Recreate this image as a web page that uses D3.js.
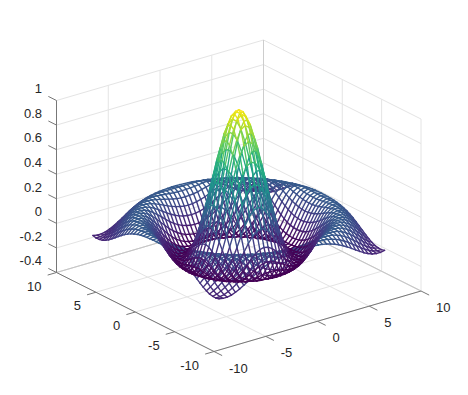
<!DOCTYPE html>
<html>
<head>
<meta charset="utf-8">
<style>
  html, body { margin: 0; padding: 0; background: #fff; }
  svg { display: block; }
  text { font-family: "Liberation Sans", Arial, sans-serif; font-size: 13px; fill: #262626; }
</style>
<script src="https://cdn.jsdelivr.net/npm/d3@7"></script>
</head>
<body>
<div class="canvas"></div>
<script>
// tick labels
const xTicks = [-10, -5, 0, 5, 10];
const yTicks = [-10, -5, 0, 5, 10];
const zTicks = [-0.4, -0.2, 0, 0.2, 0.4, 0.6, 0.8, 1];

// mesh sample positions, same for x and y
const gridPos = [-8, -7.6, -7.2, -6.8, -6.4, -6, -5.6, -5.2, -4.8, -4.4, -4, -3.6, -3.2, -2.8, -2.4, -2, -1.6, -1.2, -0.8, -0.4, 0,
  0.4, 0.8, 1.2, 1.6, 2, 2.4, 2.8, 3.2, 3.6, 4, 4.4, 4.8, 5.2, 5.6, 6, 6.4, 6.8, 7.2, 7.6, 8];

// surface height, one quadrant (row = |y| step, col = |x| step from centre)
// it reads as the usual sin(r)/r bump
const zQuadrant = [
  [1.000, .974, .897, .777, .625, .455, .281, .120, -.018, -.123, -.189, -.216, -.208, -.170, -.113, -.047, .018, .073, .110, .127, .124],
  [.974, .948, .872, .754, .605, .437, .267, .109, -.026, -.127, -.191, -.217, -.206, -.168, -.110, -.044, .020, .074, .111, .127, .124],
  [.897, .872, .800, .688, .546, .388, .227, .078, -.047, -.142, -.198, -.217, -.203, -.162, -.103, -.038, .026, .078, .113, .128, .122],
  [.777, .754, .688, .585, .455, .310, .165, .031, -.080, -.160, -.205, -.217, -.197, -.152, -.092, -.027, .035, .084, .116, .128, .120],
  [.625, .605, .546, .455, .340, .214, .088, -.026, -.118, -.182, -.213, -.213, -.186, -.137, -.076, -.012, .047, .093, .120, .128, .117],
  [.455, .437, .388, .310, .214, .109, .006, -.086, -.157, -.201, -.217, -.205, -.170, -.117, -.056, .006, .061, .102, .124, .127, .112],
  [.281, .267, .227, .165, .088, .006, -.074, -.142, -.189, -.214, -.214, -.191, -.148, -.092, -.031, .027, .077, .111, .127, .125, .105],
  [.120, .109, .078, .031, -.026, -.086, -.142, -.184, -.211, -.217, -.202, -.168, -.119, -.063, -.004, .050, .093, .119, .128, .120, .096],
  [-.018, -.026, -.047, -.080, -.118, -.157, -.189, -.211, -.217, -.206, -.179, -.137, -.085, -.029, .026, .073, .107, .126, .127, .112, .084],
  [-.123, -.127, -.142, -.160, -.182, -.201, -.214, -.217, -.206, -.182, -.146, -.099, -.047, .006, .055, .094, .119, .128, .122, .101, .069],
  [-.189, -.191, -.198, -.205, -.213, -.217, -.214, -.202, -.179, -.146, -.103, -.056, -.006, .042, .082, .111, .126, .127, .112, .086, .052],
  [-.216, -.217, -.217, -.217, -.213, -.205, -.191, -.168, -.137, -.099, -.056, -.010, .035, .074, .104, .123, .128, .120, .099, .068, .032],
  [-.208, -.206, -.203, -.197, -.186, -.170, -.148, -.119, -.085, -.047, -.006, .035, .071, .101, .120, .128, .124, .107, .081, .047, .010],
  [-.170, -.168, -.162, -.152, -.137, -.117, -.092, -.063, -.029, .006, .042, .074, .101, .119, .128, .126, .112, .089, .058, .023, -.012],
  [-.113, -.110, -.103, -.092, -.076, -.056, -.031, -.004, .026, .055, .082, .104, .120, .128, .126, .114, .094, .066, .033, -.002, -.034],
  [-.047, -.044, -.038, -.027, -.012, .006, .027, .050, .073, .094, .111, .123, .128, .126, .114, .095, .069, .038, .006, -.026, -.054],
  [.018, .020, .026, .035, .047, .061, .077, .093, .107, .119, .126, .128, .124, .112, .094, .069, .040, .010, -.022, -.049, -.071],
  [.073, .074, .078, .084, .093, .102, .111, .119, .126, .128, .127, .120, .107, .089, .066, .038, .010, -.020, -.046, -.068, -.084],
  [.110, .111, .113, .116, .120, .124, .127, .128, .127, .122, .112, .099, .081, .058, .033, .006, -.022, -.046, -.067, -.083, -.090],
  [.127, .127, .128, .128, .128, .127, .125, .120, .112, .101, .086, .068, .047, .023, -.002, -.026, -.049, -.068, -.083, -.090, -.091],
  [.124, .124, .122, .120, .117, .112, .105, .096, .084, .069, .052, .032, .010, -.012, -.034, -.054, -.071, -.084, -.090, -.091, -.084]
];

const dims = { width: 468, height: 395 };

const svg = d3.select('.canvas')
  .append('svg')
  .attr('width', dims.width)
  .attr('height', dims.height);

// box corners on screen, orthographic view so x, y, z each just add an offset
const front = { x: 214, y: 351.5 };     // x=-10, y=-10, z=-0.4
const xEdge = { x: 207, y: -60.5 };
const yEdge = { x: -157.5, y: -79 };
const zEdge = { x: 0, y: -172 };

const xScale = d3.scaleLinear().domain([-10, 10]).range([0, 1]);
const yScale = d3.scaleLinear().domain([-10, 10]).range([0, 1]);
const zScale = d3.scaleLinear().domain([-0.4, 1]).range([0, 1]);

const project = (x, y, z) => {
  const a = xScale(x), b = yScale(y), c = zScale(z);
  return [
    front.x + a * xEdge.x + b * yEdge.x + c * zEdge.x,
    front.y + a * xEdge.y + b * yEdge.y + c * zEdge.y
  ];
};

const seg = (g, p, q, color, width) => {
  g.append('line')
    .attr('x1', p[0]).attr('y1', p[1])
    .attr('x2', q[0]).attr('y2', q[1])
    .attr('stroke', color)
    .attr('stroke-width', width);
};

const gridColor = '#e4e4e4';
const axisColor = '#777';
const grid = svg.append('g');
const axes = svg.append('g');
const mesh = svg.append('g').attr('fill', 'none').attr('stroke-linecap', 'round');
const labels = svg.append('g');

// floor and the two back walls
xTicks.forEach(x => {
  seg(grid, project(x, -10, -0.4), project(x, 10, -0.4), gridColor, 1);
  seg(grid, project(x, 10, -0.4), project(x, 10, 1), gridColor, 1);
});
yTicks.forEach(y => {
  seg(grid, project(-10, y, -0.4), project(10, y, -0.4), gridColor, 1);
  seg(grid, project(10, y, -0.4), project(10, y, 1), gridColor, 1);
});
zTicks.forEach(z => {
  seg(grid, project(-10, 10, z), project(10, 10, z), gridColor, 1);
  seg(grid, project(10, 10, z), project(10, -10, z), gridColor, 1);
});

// darker back edges of the box
seg(grid, project(10, 10, -0.4), project(10, 10, 1), '#cdcdcd', 1);
seg(grid, project(-10, 10, -0.4), project(10, 10, -0.4), '#c4c4c4', 1);
seg(grid, project(10, 10, -0.4), project(10, -10, -0.4), '#c4c4c4', 1);

// axis lines and ticks
const tickLen = 9 / 20;   // in data units of a 20 unit wide box, roughly 9px
seg(axes, project(-10, -10, -0.4), project(10, -10, -0.4), axisColor, 1);
seg(axes, project(-10, -10, -0.4), project(-10, 10, -0.4), axisColor, 1);
seg(axes, project(-10, 10, -0.4), project(-10, 10, 1), axisColor, 1);

xTicks.forEach(x => {
  const p = project(x, -10, -0.4);
  seg(axes, p, project(x, -10 - tickLen * 2.3, -0.4), axisColor, 1);
  labels.append('text')
    .attr('x', p[0] + 15).attr('y', p[1] + 16.5).attr('dy', '.35em')
    .text(x);
});
yTicks.forEach(y => {
  const p = project(-10, y, -0.4);
  seg(axes, p, project(-10 - tickLen * 1.9, y, -0.4), axisColor, 1);
  labels.append('text')
    .attr('x', p[0] - 15).attr('y', p[1] + 13.5).attr('dy', '.35em')
    .attr('text-anchor', 'end')
    .text(y);
});
zTicks.forEach(z => {
  const p = project(-10, 10, z);
  seg(axes, p, project(-10, 10 + tickLen * 2.3, z), axisColor, 1);
  labels.append('text')
    .attr('x', 42).attr('y', p[1] - 11.8).attr('dy', '.35em')
    .attr('text-anchor', 'end')
    .text(z);
});

// build the edges of the wire mesh
const n = gridPos.length;
const mid = (n - 1) / 2;
const zAt = (r, c) => zQuadrant[Math.abs(r - mid)][Math.abs(c - mid)];

const edges = [];
d3.range(n).forEach(r => {
  d3.range(n).forEach(c => {
    if (c < n - 1) edges.push([r, c, r, c + 1]);
    if (r < n - 1) edges.push([r, c, r + 1, c]);
  });
});

const zAll = zQuadrant.flat();
const color = d3.scaleSequential(d3.interpolateViridis).domain(d3.extent(zAll));

// draw order: outside in, the rim goes under the trough and the peak like the reference
const dist = e => Math.hypot(gridPos[e[0]], gridPos[e[1]]);
edges.sort((a, b) => dist(b) - dist(a));

edges.forEach(e => {
  const z1 = zAt(e[0], e[1]), z2 = zAt(e[2], e[3]);
  seg(mesh,
    project(gridPos[e[1]], gridPos[e[0]], z1),
    project(gridPos[e[3]], gridPos[e[2]], z2),
    color((z1 + z2) / 2), 1.4);
});
</script>
</body>
</html>
